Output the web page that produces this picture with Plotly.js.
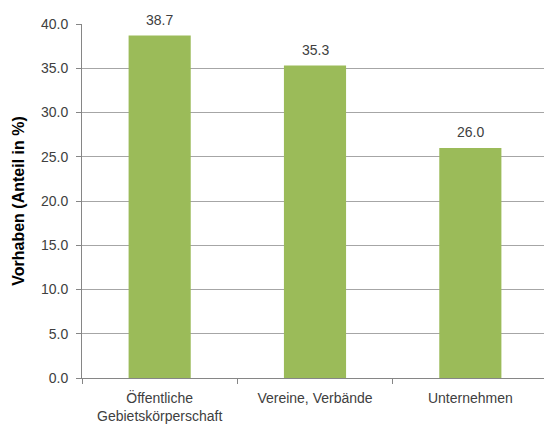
<!DOCTYPE html>
<html><head><meta charset="utf-8">
<script src="https://cdn.plot.ly/plotly-3.0.1.min.js"></script>
<style>html,body{margin:0;padding:0;overflow:hidden;background:#fff}#chart{width:548px;height:425px}</style>
</head><body><div id="chart"></div>
<script>
const categories = ["Öffentliche<br>Gebietskörperschaft", "Vereine, Verbände", "Unternehmen"];
const values = [38.7, 35.3, 26.0];
const valueLabels = ["38.7", "35.3", "26.0"];
const yTicks = [0, 5, 10, 15, 20, 25, 30, 35, 40];
const yTickLabels = ["0.0", "5.0", "10.0", "15.0", "20.0", "25.0", "30.0", "35.0", "40.0"];

const font = {family: "Liberation Sans, Arial, sans-serif", size: 14, color: "#404040"};
const annotations = categories.map((c, i) => ({
  x: c, y: values[i], text: valueLabels[i], showarrow: false,
  xref: "x", yref: "y", yanchor: "middle", yshift: 16, font: font
}));
Plotly.newPlot("chart", [{
  type: "bar", x: categories, y: values,
  marker: {color: "#9BBB59"}, width: 0.4, hoverinfo: "none"
}], {
  width: 548, height: 425,
  margin: {l: 82, r: 0, t: 24, b: 47},
  paper_bgcolor: "#fff", plot_bgcolor: "#fff",
  font: font, showlegend: false, annotations: annotations,
  xaxis: {type: "category", tickson: "boundaries", ticks: "outside", ticklen: 5,
    tickcolor: "#868686", showline: true, linecolor: "#868686", linewidth: 1,
    showgrid: false, tickfont: font, range: [-0.5, 2.5], ticklabelstandoff: 7},
  yaxis: {range: [0, 40], tickvals: yTicks, ticktext: yTickLabels, ticks: "outside",
    ticklen: 5, tickcolor: "#868686", showline: true, linecolor: "#868686",
    gridcolor: "#A6A6A6", gridwidth: 1, zeroline: false, tickfont: font, ticklabelstandoff: 5,
    title: {text: "Vorhaben (Anteil in %)", font: {family: "Liberation Sans, Arial, sans-serif", size: 16, color: "#000", weight: "bold"}, standoff: 12}}
}, {displayModeBar: false, staticPlot: true});
</script></body></html>
